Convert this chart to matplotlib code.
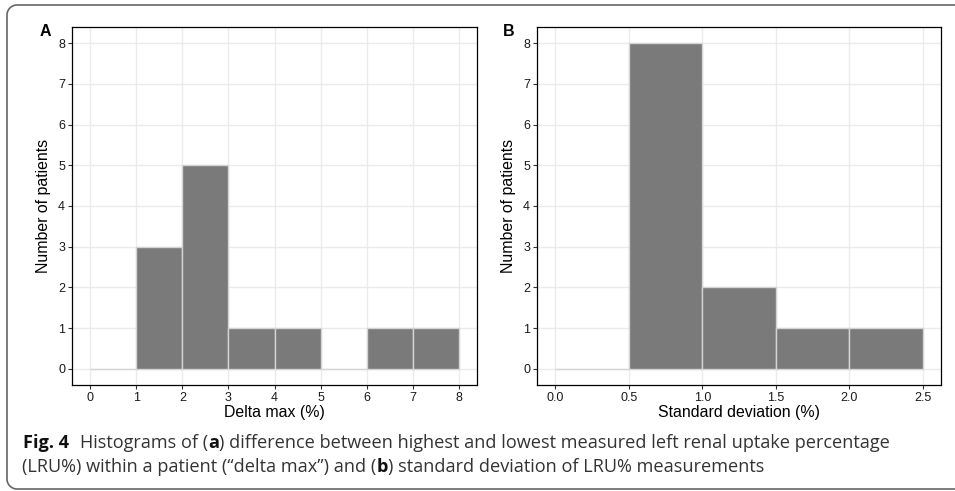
import numpy as np
import matplotlib
matplotlib.use("Agg")
import matplotlib.pyplot as plt

# histogram data
delta_edges = [0, 1, 2, 3, 4, 5, 6, 7, 8]
delta_counts = [0, 3, 5, 1, 1, 0, 1, 1]
sd_edges = [0.0, 0.5, 1.0, 1.5, 2.0, 2.5]
sd_counts = [0, 8, 2, 1, 1]

delta_ticks = [0, 1, 2, 3, 4, 5, 6, 7, 8]
sd_ticks = [0.0, 0.5, 1.0, 1.5, 2.0, 2.5]
y_ticks = [0, 1, 2, 3, 4, 5, 6, 7, 8]

W, H = 955, 491
fig = plt.figure(figsize=(W / 100, H / 100), dpi=100)
plt.rcParams['font.family'] = ['Liberation Sans', 'DejaVu Sans']


def px_axes(left, top, right, bottom):
    return fig.add_axes([left / W, 1 - bottom / H, (right - left) / W, (bottom - top) / H])


def hist_panel(ax, edges, counts, ticks, xlim, xlabel, fmt):
    widths = np.diff(edges)
    ax.bar(edges[:-1], counts, width=widths, align='edge',
           color='#7a7a7a', edgecolor='#d4d4d4', linewidth=1.0, zorder=2)
    ax.set_xlim(*xlim)
    ax.set_ylim(-0.4, 8.4)
    ax.set_xticks(ticks)
    ax.set_xticklabels([fmt(t) for t in ticks])
    ax.set_yticks(y_ticks)
    ax.set_axisbelow(True)
    ax.grid(True, color='#ebebeb', linewidth=1.0)
    for s in ax.spines.values():
        s.set_color('black')
        s.set_linewidth(0.9)
    ax.tick_params(length=3, width=0.8, color='#333333', labelsize=9,
                   labelcolor='#1a1a1a', pad=2)
    ax.set_xlabel(xlabel, fontsize=11.4, labelpad=1)
    ax.set_ylabel('Number of patients', fontsize=11.4, labelpad=5)


axA = px_axes(72, 27, 477, 385)
hist_panel(axA, delta_edges, delta_counts, delta_ticks, (-0.4, 8.4),
           'Delta max (%)', lambda t: str(t))
axB = px_axes(537, 27, 941, 385)
hist_panel(axB, sd_edges, sd_counts, sd_ticks, (-0.125, 2.625),
           'Standard deviation (%)', lambda t: '%.1f' % t)

fig.text(45 / W, 1 - 32 / H, 'A', fontsize=11.5, fontweight='bold', ha='center', va='center')
fig.text(509 / W, 1 - 32 / H, 'B', fontsize=11.5, fontweight='bold', ha='center', va='center')

# rounded frame around figure + caption (open on the right)
r = 10
x0, yt, yb = 7, 5, 489
th = np.linspace(0, np.pi / 2, 20)
fx = np.concatenate([[W + 5], x0 + r - r * np.sin(th), x0 + r - r * np.cos(th), [W + 5]])
fy = np.concatenate([[yt], yt + r - r * np.cos(th), yb - r + r * np.sin(th), [yb]])
fig.add_artist(plt.Line2D(fx / W, 1 - fy / H, color='#666666', linewidth=1.2))

# caption
renderer = fig.canvas.get_renderer()
cap_font = ['Open Sans', 'DejaVu Sans']


def write_line(parts, x, y):
    for s, bold in parts:
        t = fig.text(x / W, 1 - y / H, s, fontsize=13.1, family=cap_font,
                     fontweight='bold' if bold else 'normal',
                     color='#111111' if bold else '#333333', va='baseline')
        x = t.get_window_extent(renderer).x1
    return x


x = write_line([('Fig. 4', True)], 23, 448)
write_line([('Histograms of (', False), ('a', True),
            (') difference between highest and lowest measured left renal uptake percentage', False)],
           x + 11, 448)
write_line([('(LRU%) within a patient (\u201cdelta max\u201d) and (', False), ('b', True),
            (') standard deviation of LRU% measurements', False)], 22, 472)

fig.savefig('out.png', dpi=100)
